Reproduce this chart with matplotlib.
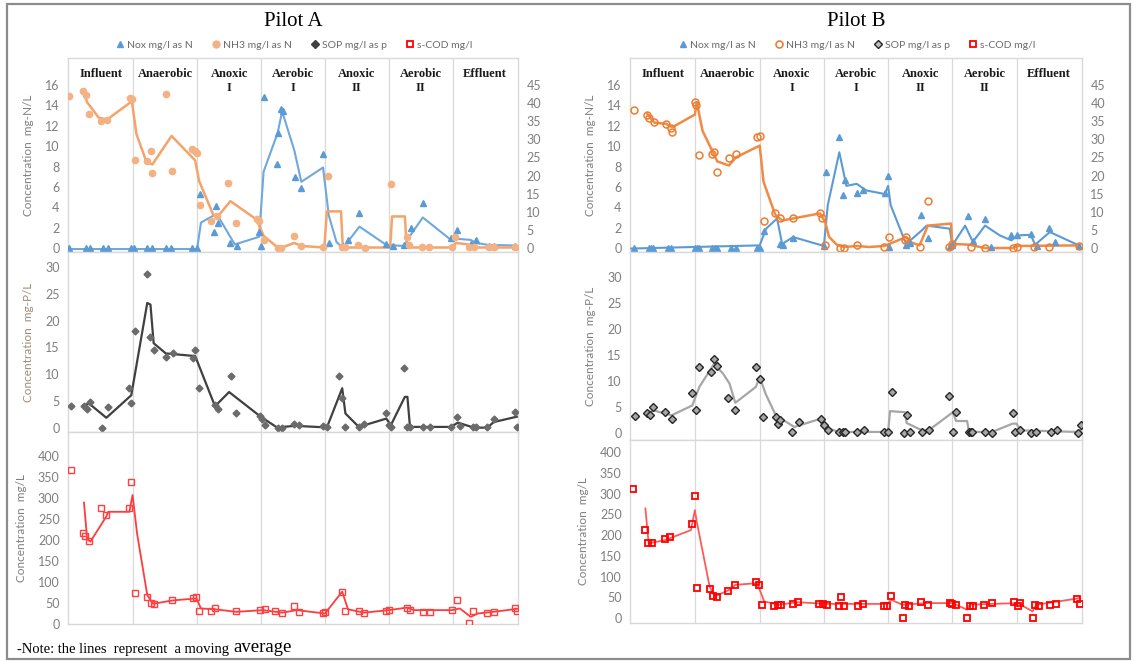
import matplotlib
matplotlib.use("Agg")
import matplotlib.pyplot as plt
from matplotlib.lines import Line2D
from matplotlib.patches import Rectangle

# ---------------- data (x = position along the process train, one unit per zone) ----------------
zones = ["Influent", "Anaerobic", "Anoxic\nI", "Aerobic\nI", "Anoxic\nII", "Aerobic\nII", "Effluent"]
legend_labels = ["Nox mg/l as N", "NH3 mg/l as N", "SOP mg/l as p", "s-COD mg/l"]

# Pilot A
a_nox_x = [0.0, 0.26, 0.32, 0.52, 0.60, 0.96, 1.02, 1.22, 1.30, 1.51, 1.59, 1.92, 2.0,
           2.04, 2.26, 2.29, 2.33, 2.52, 2.62, 2.97, 3.0, 3.05, 3.25, 3.27, 3.31, 3.35, 3.53, 3.63,
           3.97, 4.07, 4.28, 4.36, 4.54, 4.96, 5.06, 5.24, 5.35, 5.53, 5.97, 6.07, 6.28, 6.36,
           6.56, 6.64, 6.98]
a_nox_y = [0.0, 0.0, 0.0, 0.0, 0.0, 0.0, 0.0, 0.0, 0.0, 0.0, 0.0, 0.0, 0.0,
           5.3, 1.55, 4.1, 2.45, 0.45, 0.2, 1.6, 0.2, 14.8, 8.2, 11.3, 13.6, 13.4, 7.0, 5.85,
           9.2, 0.45, 0.2, 0.8, 3.45, 0.35, 0.2, 0.3, 1.95, 4.4, 0.95, 1.8, 0.35, 0.8,
           0.2, 0.2, 0.2]
a_nox_ma_x = [0.0, 2.0, 2.06, 2.29, 2.33, 2.59, 2.97, 3.04, 3.26, 3.33, 3.52, 3.63, 3.97, 4.06,
              4.18, 4.28, 4.54, 4.96, 5.24, 5.32, 5.53, 5.97, 6.07, 6.28, 6.36, 6.56, 6.98]
a_nox_ma_y = [-0.1, -0.1, 2.5, 3.3, 3.1, 0.35, 1.1, 7.5, 11.3, 13.4, 9.6, 6.5, 7.9, 3.2,
              0.6, 0.0, 2.1, 0.3, 0.2, 1.1, 3.0, 0.8, 0.9, 0.8, 0.5, 0.3, 0.25]

a_nh3_x = [0.0, 0.21, 0.26, 0.31, 0.50, 0.59, 0.95, 0.98, 1.03, 1.21, 1.28, 1.30, 1.52, 1.60,
           1.92, 1.97, 2.0, 2.04, 2.22, 2.31, 2.49, 2.61, 2.93, 2.97, 3.04, 3.26, 3.32, 3.52,
           3.63, 3.97, 4.05, 4.26, 4.31, 4.52, 4.63, 5.03, 5.29, 5.31, 5.52, 5.63, 5.99, 6.04,
           6.25, 6.33, 6.56, 6.64, 6.98]
a_nh3_y = [14.9, 15.4, 15.0, 13.2, 12.5, 12.6, 14.75, 14.6, 8.6, 8.55, 9.5, 7.4, 15.1, 7.55,
           9.7, 9.5, 9.3, 4.2, 2.7, 3.1, 6.4, 2.45, 2.8, 2.7, 0.8, 0.05, 0.05, 1.2,
           0.2, 0.1, 7.05, 0.1, 0.1, 0.3, 0.05, 6.25, 1.1, 0.3, 0.1, 0.1, 0.1, 1.1,
           0.1, 0.1, 0.1, 0.1, 0.1]
a_nh3_ma_x = [0.21, 0.28, 0.46, 0.59, 0.98, 1.05, 1.21, 1.30, 1.60, 1.97, 2.03, 2.25, 2.31,
              2.52, 2.93, 3.04, 3.25, 3.33, 3.52, 3.63, 3.99, 4.03, 4.25, 4.28, 5.02, 5.05,
              5.25, 5.28, 5.99, 6.05, 6.25, 6.36, 6.98]
a_nh3_ma_y = [15.5, 14.3, 12.8, 12.6, 14.4, 11.2, 8.4, 8.2, 11.0, 8.6, 6.6, 3.3, 3.0,
              4.6, 2.8, 1.2, 0.1, 0.05, 0.5, 0.2, 0.05, 3.6, 3.6, 0.05, 0.05, 3.1,
              3.1, 0.05, 0.05, 0.5, 0.35, 0.05, 0.05]

a_sop_x = [0.03, 0.23, 0.27, 0.32, 0.51, 0.60, 0.94, 0.97, 1.03, 1.21, 1.27, 1.32, 1.51, 1.62,
           1.94, 1.97, 2.03, 2.28, 2.33, 2.53, 2.61, 2.99, 3.02, 3.06, 3.27, 3.33, 3.51, 3.60,
           3.97, 4.03, 4.22, 4.27, 4.32, 4.53, 4.61, 4.96, 5.0, 5.04, 5.23, 5.28, 5.33, 5.53,
           5.64, 5.97, 6.07, 6.12, 6.31, 6.36, 6.54, 6.64, 6.97, 7.0]
a_sop_y = [4.1, 4.05, 3.6, 4.9, 0.0, 3.9, 7.4, 4.7, 18.1, 28.7, 16.9, 14.5, 13.3, 13.9,
           13.0, 14.5, 7.5, 4.2, 3.5, 9.7, 2.7, 2.2, 1.6, 0.5, 0.06, 0.06, 0.7, 0.5,
           0.3, 0.2, 9.7, 5.5, 0.2, 0.2, 0.7, 2.7, 0.5, 0.2, 11.1, 0.2, 0.2, 0.2,
           0.2, 0.2, 2.1, 0.3, 0.2, 0.2, 0.2, 1.7, 2.9, 0.2]
a_sop_ma_x = [0.22, 0.31, 0.58, 0.97, 1.22, 1.27, 1.32, 1.51, 1.97, 2.28, 2.50, 3.0, 3.25,
              3.53, 4.03, 4.27, 4.32, 4.53, 4.96, 5.03, 5.25, 5.29, 5.33, 5.97, 6.08, 6.33,
              6.54, 6.64, 7.0]
a_sop_ma_y = [4.2, 4.55, 1.9, 6.1, 23.3, 23.0, 15.8, 13.9, 13.4, 4.05, 6.7, 2.05, 0.1,
              0.4, 0.1, 7.4, 2.7, 0.2, 1.75, 0.5, 5.8, 5.8, 0.2, 0.2, 1.0, 0.06,
              0.06, 1.1, 2.1]

a_cod_x = [0.03, 0.21, 0.25, 0.31, 0.50, 0.58, 0.93, 0.97, 1.03, 1.21, 1.28, 1.32, 1.61, 1.94,
           1.99, 2.03, 2.22, 2.28, 2.61, 2.99, 3.06, 3.22, 3.33, 3.51, 3.60, 3.97, 4.0, 4.27,
           4.32, 4.53, 4.61, 4.96, 5.0, 5.28, 5.33, 5.53, 5.64, 5.99, 6.06, 6.25, 6.31, 6.53,
           6.64, 6.97, 7.0]
a_cod_y = [367, 217, 210, 198, 275, 260, 275, 339, 73, 65, 49, 48, 57, 61,
           65, 31, 31, 39, 31, 33, 36, 31, 27, 43, 29, 27, 29, 75,
           32, 31, 27, 31, 33, 39, 33, 29, 29, 33, 57, 2, 31, 27,
           29, 37, 31]
a_cod_ma_x = [0.23, 0.28, 0.33, 0.58, 0.61, 0.94, 0.99, 1.06, 1.22, 1.31, 1.61, 1.99, 2.06,
              2.28, 2.61, 3.03, 3.33, 3.56, 4.0, 4.27, 4.36, 4.61, 5.0, 5.28, 5.39, 5.99,
              6.11, 6.28, 6.39, 6.64, 7.0]
a_cod_ma_y = [289, 202, 196, 256, 267, 267, 307, 216, 69, 48, 56, 61, 37,
              35, 29, 33, 27, 33, 25, 77, 35, 27, 33, 39, 33, 33,
              37, 17, 25, 29, 36]

# Pilot B
b_nox_x = [0.04, 0.28, 0.31, 0.34, 0.57, 0.62, 0.99, 1.02, 1.06, 1.26, 1.30, 1.34, 1.55, 1.63,
           1.96, 2.0, 2.06, 2.32, 2.36, 2.52, 3.0, 3.04, 3.24, 3.30, 3.33, 3.52, 3.61, 3.95,
           4.0, 4.02, 4.28, 4.34, 4.52, 4.62, 4.96, 5.0, 5.24, 5.32, 5.51, 5.60, 5.92, 6.01,
           6.23, 6.32, 6.50, 6.60, 6.97]
b_nox_y = [0.0, 0.0, 0.0, 0.0, 0.0, 0.0, 0.0, 0.0, 0.0, 0.0, 0.0, 0.0, 0.0, 0.0,
           0.0, 0.0, 1.63, 0.4, 0.26, 0.98, 0.2, 7.45, 10.9, 5.16, 6.7, 5.4, 5.65, 5.4,
           7.05, 0.1, 0.26, 0.5, 3.27, 0.98, 0.2, 0.33, 3.1, 0.65, 2.87, 0.1, 1.24, 1.24,
           1.4, 0.2, 1.96, 0.59, 0.2]
b_nox_ma_x = [0.0, 2.0, 2.1, 2.27, 2.35, 2.52, 3.0, 3.06, 3.24, 3.35, 3.51, 3.66, 3.95, 4.0,
              4.04, 4.28, 4.52, 4.60, 4.96, 5.0, 5.20, 5.32, 5.51, 5.74, 5.92, 6.01, 6.22,
              6.29, 6.52, 6.97]
b_nox_ma_y = [-0.05, 0.26, 1.9, 2.9, 0.4, 1.08, 0.2, 4.2, 9.4, 6.1, 6.3, 5.65, 5.3, 6.1,
              4.2, 0.4, 1.7, 2.2, 1.9, 0.26, 2.2, 0.6, 2.2, 1.24, 0.75, 1.24, 1.3,
              0.33, 1.57, 0.26]

b_nh3_x = [0.04, 0.25, 0.28, 0.35, 0.54, 0.62, 0.63, 0.99, 1.01, 1.06, 1.25, 1.29, 1.34, 1.52,
           1.63, 1.96, 2.0, 2.06, 2.24, 2.32, 2.52, 2.94, 2.97, 3.02, 3.25, 3.31, 3.52, 3.94,
           4.01, 4.27, 4.28, 4.50, 4.62, 4.95, 5.0, 5.29, 5.51, 5.94, 6.01, 6.27, 6.50, 6.97]
b_nh3_y = [13.5, 13.06, 12.8, 12.4, 12.2, 11.75, 11.4, 14.3, 14.0, 9.1, 9.2, 9.4, 7.45, 8.8,
           9.2, 10.9, 11.0, 2.7, 3.4, 2.9, 2.95, 3.4, 2.9, 0.25, 0.0, 0.0, 0.25, 0.1,
           1.08, 0.8, 1.08, 0.1, 4.57, 0.1, 0.4, 0.1, 0.0, 0.0, 0.1, 0.1, 0.1, 0.2]
b_nh3_ma_x = [0.25, 0.36, 0.54, 0.64, 0.99, 1.02, 1.11, 1.34, 1.52, 1.63, 2.0, 2.06, 2.24,
              2.35, 2.94, 3.02, 3.08, 3.20, 3.31, 3.52, 3.70, 3.94, 4.02, 4.28, 4.34, 4.49,
              4.62, 4.98, 5.0, 5.26, 5.51, 5.94, 6.01, 6.97]
b_nh3_ma_y = [13.15, 12.3, 12.2, 11.85, 13.1, 14.3, 11.5, 8.5, 8.1, 8.9, 10.05, 6.5, 3.3,
              2.7, 3.4, 2.55, 1.1, 0.33, 0.1, 0.2, 0.1, 0.2, 0.4, 1.08, 0.6, 0.26,
              2.2, 2.4, 0.4, 0.33, 0.0, 0.0, 0.2, 0.26]

b_sop_x = [0.06, 0.25, 0.29, 0.34, 0.53, 0.63, 0.95, 1.01, 1.06, 1.24, 1.29, 1.33, 1.51, 1.62,
           1.94, 2.0, 2.05, 2.25, 2.29, 2.31, 2.51, 2.61, 2.95, 3.0, 3.06, 3.23, 3.29, 3.33,
           3.51, 3.62, 3.94, 4.0, 4.06, 4.25, 4.29, 4.34, 4.53, 4.63, 4.95, 5.01, 5.06, 5.26,
           5.29, 5.31, 5.51, 5.62, 5.94, 5.98, 6.06, 6.23, 6.30, 6.53, 6.63, 6.95, 7.0]
b_sop_y = [3.2, 3.85, 3.4, 4.9, 4.0, 2.75, 7.6, 4.5, 12.7, 11.7, 14.3, 12.9, 6.7, 4.5,
           12.7, 10.3, 3.1, 3.1, 1.8, 2.4, 0.2, 2.1, 2.6, 1.5, 0.5, 0.2, 0.2, 0.2,
           0.2, 0.5, 0.2, 0.2, 7.9, 0.0, 3.4, 0.2, 0.2, 0.5, 7.2, 0.2, 4.0, 0.2,
           0.2, 0.2, 0.2, 0.0, 3.85, 0.2, 0.5, 0.0, 0.2, 0.2, 0.5, 0.0, 1.5]
b_sop_ma_x = [0.26, 0.34, 0.63, 0.95, 1.06, 1.29, 1.43, 1.53, 1.62, 1.94, 2.0, 2.09, 2.25,
              2.54, 2.95, 3.09, 3.23, 4.0, 4.03, 4.26, 4.29, 4.53, 4.63, 5.01, 5.06, 5.23,
              5.26, 5.62, 5.94, 6.0, 6.06, 6.95, 7.0]
b_sop_ma_y = [3.85, 4.35, 3.4, 5.3, 8.85, 13.3, 11.4, 9.5, 5.8, 8.85, 10.8, 7.6, 3.4,
              1.15, 2.75, 0.8, 0.2, 0.2, 4.2, 4.0, 1.9, 0.5, 0.5, 4.0, 2.3, 2.3,
              0.2, 0.2, 1.8, 1.8, 0.5, 0.2, 0.5]

b_cod_x = [0.03, 0.22, 0.26, 0.33, 0.53, 0.60, 0.94, 0.99, 1.03, 1.22, 1.27, 1.33, 1.51, 1.62,
           1.95, 1.99, 2.03, 2.22, 2.29, 2.33, 2.52, 2.60, 2.93, 2.99, 3.05, 3.23, 3.27, 3.32,
           3.53, 3.61, 3.93, 3.99, 4.05, 4.23, 4.27, 4.33, 4.52, 4.62, 4.96, 5.0, 5.06, 5.23,
           5.27, 5.33, 5.50, 5.62, 5.96, 6.02, 6.06, 6.25, 6.29, 6.35, 6.52, 6.62, 6.94, 6.99]
b_cod_y = [312, 212, 180, 180, 190, 196, 226, 294, 72, 70, 52, 50, 64, 80,
           86, 80, 32, 28, 32, 32, 34, 38, 34, 34, 32, 28, 50, 28,
           28, 34, 30, 28, 52, 0, 32, 28, 38, 32, 36, 34, 32, 0,
           30, 28, 32, 36, 38, 30, 36, 0, 32, 28, 32, 34, 46, 34]
b_cod_ma_x = [0.22, 0.27, 0.53, 0.93, 0.99, 1.02, 1.22, 1.30, 1.53, 1.62, 1.96, 2.07, 2.29,
              2.60, 3.05, 3.27, 3.62, 3.99, 4.05, 4.22, 4.62, 5.0, 5.23, 5.27, 5.62, 6.02,
              6.25, 6.31, 6.99]
b_cod_ma_y = [264, 180, 188, 212, 260, 232, 76, 52, 68, 80, 84, 40, 32,
              38, 34, 34, 34, 34, 44, 32, 36, 36, 20, 32, 34, 36,
              16, 32, 48]

# ---------------- styling ----------------
W, H = 1136, 661
SERIF = ["Liberation Serif", "DejaVu Serif"]
SANS = ["Lato", "DejaVu Sans"]
plt.rcParams["font.family"] = SANS
TICK_C = "#7F7F7F"
GRID_C = "#D9D9D9"
NOX_C = "#5B9BD5"
NH3_C = "#ED7D31"
COD_C = "#FF0000"

fig = plt.figure(figsize=(W / 100, H / 100), dpi=100)
fig.patch.set_facecolor("white")
fig.patches.append(Rectangle((7 / W, 1 - 659 / H), 1123 / W, 655 / H, transform=fig.transFigure,
                             fill=False, edgecolor="#8C8C8C", linewidth=1.6))


def add_panel(left, top, right, bottom):
    return fig.add_axes([left / W, 1 - bottom / H, (right - left) / W, (bottom - top) / H])


def style(ax, ylim, yticks, ylabel, label_color=TICK_C):
    ax.set_xlim(-0.02, 7.02)
    ax.set_ylim(*ylim)
    ax.set_xticks([])
    ax.set_yticks(yticks)
    ax.tick_params(axis="y", length=0, pad=6, labelsize=9, labelcolor=TICK_C)
    for s in ax.spines.values():
        s.set_color(GRID_C)
        s.set_linewidth(1.0)
    for xv in range(1, 7):
        ax.axvline(xv, color=GRID_C, lw=0.9, zorder=0)
    ax.set_ylabel(ylabel, fontsize=8.5, color=label_color, labelpad=8)


def draw_pilot(x0, x1, title, tops, d, open_marks):
    cx = (x0 + x1) / 2
    fig.text(cx / W, 1 - 22 / H, title, ha="center", va="center", fontsize=15, family=SERIF)

    # legend row
    if open_marks:
        handles = [Line2D([], [], ls="", marker="^", ms=5, color=NOX_C),
                   Line2D([], [], ls="", marker="o", ms=5, mfc="none", mec=NH3_C, mew=1.2),
                   Line2D([], [], ls="", marker="D", ms=4.5, mfc="#BFBFBF", mec="#262626", mew=1),
                   Line2D([], [], ls="", marker="s", ms=5, mfc="none", mec=COD_C, mew=1.3)]
    else:
        handles = [Line2D([], [], ls="", marker="^", ms=5, color=NOX_C),
                   Line2D([], [], ls="", marker="o", ms=5, color="#F4B183"),
                   Line2D([], [], ls="", marker="D", ms=4.5, color="#404040"),
                   Line2D([], [], ls="", marker="s", ms=5, mfc="none", mec=COD_C, mew=1.3)]
    fig.legend(handles, legend_labels, loc="center", bbox_to_anchor=(cx / W, 1 - 45 / H),
               ncol=4, frameon=False, fontsize=7.5, labelcolor="#6B6B6B", handletextpad=0.1,
               columnspacing=1.6, handlelength=1.2)

    t_top, t_bot, m_top, m_bot, b_top, b_bot, m_lim, b_lim = tops

    # nitrogen panel
    ax = add_panel(x0, t_top, x1, t_bot)
    style(ax, (-0.39, 18.65), range(0, 17, 2), "Concentration  mg-N/L")
    nox_line = "#6FA8DC" if not open_marks else NOX_C
    ax.plot(d["nox_ma_x"], d["nox_ma_y"], color=nox_line, lw=1.5, zorder=3)
    ax.plot(d["nh3_ma_x"], d["nh3_ma_y"], color="#F4A46A" if not open_marks else "#F08A45",
            lw=1.8, zorder=3)
    ax.plot(d["nox_x"], d["nox_y"], ls="", marker="^", ms=4, color=NOX_C, zorder=4)
    if open_marks:
        ax.plot(d["nh3_x"], d["nh3_y"], ls="", marker="o", ms=5, mfc="none", mec=NH3_C,
                mew=1.1, zorder=4)
    else:
        ax.plot(d["nh3_x"], d["nh3_y"], ls="", marker="o", ms=4.5, color="#F4B183", zorder=4)
    ax2 = ax.twinx()
    ax2.set_ylim(-0.39 * 45 / 16, 18.65 * 45 / 16)
    ax2.set_yticks(range(0, 46, 5))
    ax2.tick_params(axis="y", length=0, pad=6, labelsize=9, labelcolor=TICK_C)
    for s in ax2.spines.values():
        s.set_visible(False)
    for i, z in enumerate(zones):
        ax.text(i + 0.5, 17.7, z, ha="center", va="top", fontsize=9, fontweight="bold",
                family=SERIF, linespacing=1.3, color="#1A1A1A")

    # phosphorus panel
    ax = add_panel(x0, m_top, x1, m_bot)
    style(ax, m_lim, range(0, 31, 5), "Concentration  mg-P/L",
          label_color="#A08A74" if not open_marks else TICK_C)
    if open_marks:
        ax.plot(d["sop_ma_x"], d["sop_ma_y"], color="#A6A6A6", lw=1.6, zorder=3)
        ax.plot(d["sop_x"], d["sop_y"], ls="", marker="D", ms=4.5, mfc="#A6A6A6", mec="#262626",
                mew=1, zorder=4)
    else:
        ax.plot(d["sop_ma_x"], d["sop_ma_y"], color="#404040", lw=1.6, zorder=3)
        ax.plot(d["sop_x"], d["sop_y"], ls="", marker="D", ms=3.5, color="#6B6B6B", zorder=4)

    # COD panel
    ax = add_panel(x0, b_top, x1, b_bot)
    style(ax, b_lim, range(0, 401, 50), "Concentration  mg/L")
    ax.plot(d["cod_ma_x"], d["cod_ma_y"], color="#FF3B3B" if not open_marks else "#FF5A5A",
            lw=1.3, zorder=3)
    ax.plot(d["cod_x"], d["cod_y"], ls="", marker="s", ms=5 if open_marks else 4.5,
            mfc="none", mec=COD_C if open_marks else "#FF4040", mew=1.3 if open_marks else 1.0,
            zorder=4)


pilot_a = dict(nox_x=a_nox_x, nox_y=a_nox_y, nox_ma_x=a_nox_ma_x, nox_ma_y=a_nox_ma_y,
               nh3_x=a_nh3_x, nh3_y=a_nh3_y, nh3_ma_x=a_nh3_ma_x, nh3_ma_y=a_nh3_ma_y,
               sop_x=a_sop_x, sop_y=a_sop_y, sop_ma_x=a_sop_ma_x, sop_ma_y=a_sop_ma_y,
               cod_x=a_cod_x, cod_y=a_cod_y, cod_ma_x=a_cod_ma_x, cod_ma_y=a_cod_ma_y)
pilot_b = dict(nox_x=b_nox_x, nox_y=b_nox_y, nox_ma_x=b_nox_ma_x, nox_ma_y=b_nox_ma_y,
               nh3_x=b_nh3_x, nh3_y=b_nh3_y, nh3_ma_x=b_nh3_ma_x, nh3_ma_y=b_nh3_ma_y,
               sop_x=b_sop_x, sop_y=b_sop_y, sop_ma_x=b_sop_ma_x, sop_ma_y=b_sop_ma_y,
               cod_x=b_cod_x, cod_y=b_cod_y, cod_ma_x=b_cod_ma_x, cod_ma_y=b_cod_ma_y)

draw_pilot(68, 518, "Pilot A", (58, 252, 252, 432, 432, 624, (-0.75, 32.8), (0, 457)), pilot_a,
           open_marks=False)
draw_pilot(630, 1082, "Pilot B", (58, 252, 252, 440, 440, 623, (-1.35, 34.8), (-12, 429)),
           pilot_b, open_marks=True)

fig.text(17 / W, 1 - 649 / H, "-Note: the lines  represent  a moving", ha="left", va="center",
         fontsize=10.5, family=SERIF)
fig.text(233 / W, 1 - 648 / H, "average", ha="left", va="center", fontsize=13.5, family=SERIF)

fig.savefig("out.png", dpi=100)
